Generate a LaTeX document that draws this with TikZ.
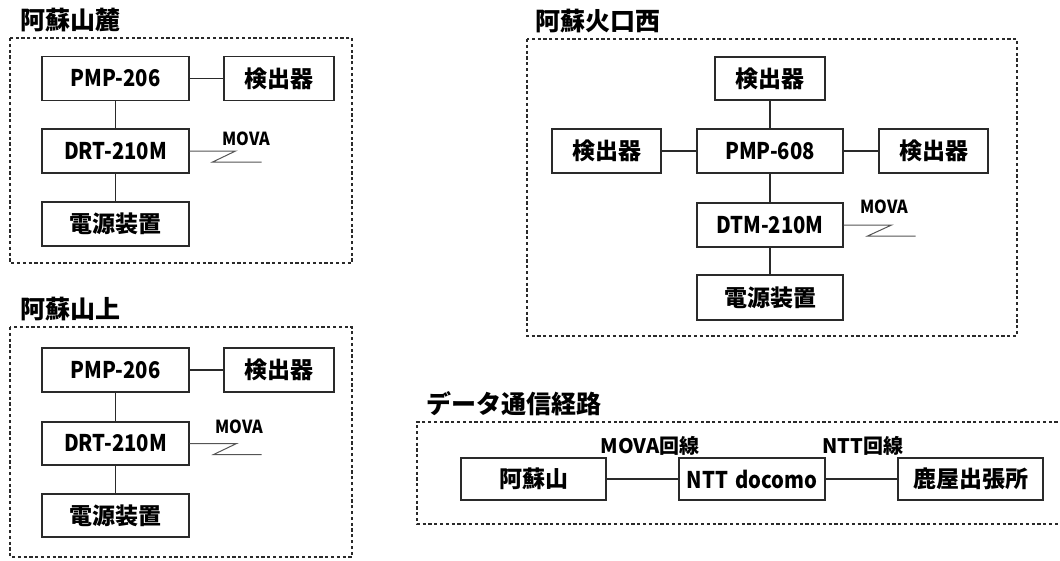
\documentclass[tikz,border=0pt]{standalone}
\usepackage{fontspec}
\setmainfont{Noto Sans CJK JP}
\newfontfamily\latfont{Noto Sans CJK JP}[FakeStretch=0.88]
\newfontfamily\movafont{Noto Sans CJK JP}[FakeStretch=0.9]
\definecolor{linec}{HTML}{2A2A2A}
\begin{document}
\begin{tikzpicture}[x=1pt,y=-1pt,
  box/.style={draw=linec, line width=1.2pt, inner sep=0pt, minimum height=44pt,
    font=\fontsize{23}{23}\selectfont\bfseries},
  lbox/.style={box, font=\latfont\fontsize{23}{23}\selectfont\bfseries},
  frame/.style={draw=linec, line width=2pt, dash pattern=on 3.2pt off 2.6pt},
  link/.style={draw=linec, line width=1.2pt},
  zig/.style={draw=linec!80, line width=1pt},
  title/.style={anchor=west, inner sep=0pt, font=\fontsize{25}{25}\selectfont\bfseries},
  mova/.style={inner sep=0pt, font=\movafont\fontsize{18}{18}\selectfont\bfseries},
  line label/.style={inner sep=0pt, font=\fontsize{20}{20}\selectfont\bfseries}]
\useasboundingbox (0,0) rectangle (1060,560);
\clip (0,0) rectangle (1060,560);

% ---------- panel 1: 阿蘇山麓 ----------
\node[title] (t1) at (20,20) {阿蘇山麓};
\draw[frame] (10,38) rectangle (352,263);
\node[lbox, minimum width=147pt] (p1pmp) at (115.5,78.5) {PMP-206};
\node[box, minimum width=110pt] (p1det) at (279,78.5) {検出器};
\node[lbox, minimum width=147pt] (p1drt) at (115.5,151) {DRT-210M};
\node[box, minimum width=147pt] (p1pwr) at (115.5,224) {電源装置};
\node[mova] (p1mova) at (246,139) {MOVA};
\draw[link] (p1pmp) -- (p1det);
\draw[link] (p1pmp) -- (p1drt);
\draw[link] (p1drt) -- (p1pwr);
\draw[zig] (p1drt.east) -- ++(46,0) -- ++(-23,11) -- ++(49,0);

% ---------- panel 2: 阿蘇山上 ----------
\node[title] (t2) at (20,309) {阿蘇山上};
\draw[frame] (10,327) rectangle (352,557);
\node[lbox, minimum width=147pt] (p2pmp) at (115.5,370) {PMP-206};
\node[box, minimum width=110pt] (p2det) at (279,370) {検出器};
\node[lbox, minimum width=147pt, minimum height=43pt] (p2drt) at (115.5,443.5) {DRT-210M};
\node[box, minimum width=147pt, minimum height=43pt] (p2pwr) at (115.5,515.5) {電源装置};
\node[mova] (p2mova) at (239,427) {MOVA};
\draw[link] (p2pmp) -- (p2det);
\draw[link] (p2pmp) -- (p2drt);
\draw[link] (p2drt) -- (p2pwr);
\draw[zig] (p2drt.east) -- ++(47,0) -- ++(-23,11) -- ++(48,0);

% ---------- panel 3: 阿蘇火口西 ----------
\node[title] (t3) at (535,21) {阿蘇火口西};
\draw[frame] (527,39) rectangle (1017,336);
\node[box, minimum width=110pt, minimum height=43pt] (p3top) at (770,78.5) {検出器};
\node[box, minimum width=109pt] (p3left) at (606.5,151) {検出器};
\node[lbox, minimum width=146pt] (p3pmp) at (770,151) {PMP-608};
\node[box, minimum width=109pt] (p3right) at (933.5,151) {検出器};
\node[lbox, minimum width=146pt] (p3dtm) at (770,225) {DTM-210M};
\node[box, minimum width=146pt, minimum height=45pt] (p3pwr) at (770,297.5) {電源装置};
\node[mova] (p3mova) at (884,207) {MOVA};
\draw[link] (p3top) -- (p3pmp);
\draw[link] (p3left) -- (p3pmp);
\draw[link] (p3pmp) -- (p3right);
\draw[link] (p3pmp) -- (p3dtm);
\draw[link] (p3dtm) -- (p3pwr);
\draw[zig] (p3dtm.east) -- ++(48,0) -- ++(-24,11) -- ++(48,0);

% ---------- panel 4: データ通信経路 ----------
\node[title] (t4) at (426,404) {データ通信経路};
\draw[frame] (1075,422) -- (417,422) -- (417,524) -- (1075,524);
\node[box, minimum width=145pt, minimum height=42pt] (aso) at (533.5,479) {阿蘇山};
\node[lbox, minimum width=146pt, minimum height=42pt] (ntt) at (752,479) {NTT\hspace{0.3em}docomo};
\node[box, minimum width=145pt, minimum height=42pt] (kanoya) at (970.5,479) {鹿屋出張所};
\node[line label] (l1) at (650,446) {MOVA回線};
\node[line label] (l2) at (863,446) {NTT回線};
\draw[link] (aso) -- (ntt);
\draw[link] (ntt) -- (kanoya);
\end{tikzpicture}
\end{document}
